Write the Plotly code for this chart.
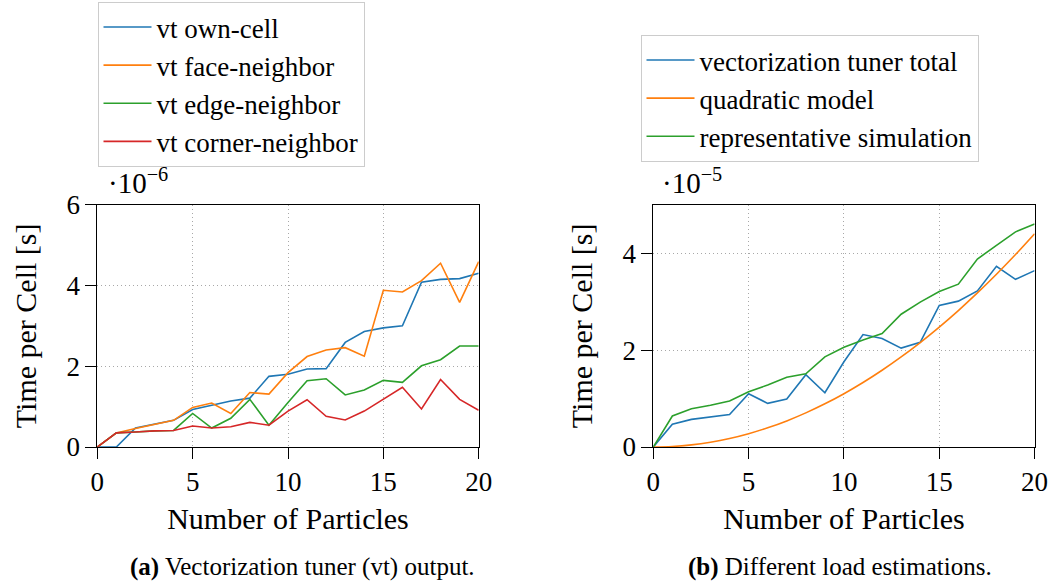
import plotly.graph_objects as go

# ---- data -------------------------------------------------------------
particles = list(range(21))

# (a) vectorization tuner output, time per cell in units of 1e-6 s
vt_own_cell = [0, 0, 0.47, 0.56, 0.66, 0.93, 1.03, 1.14, 1.21, 1.75, 1.80,
               1.93, 1.94, 2.59, 2.86, 2.95, 3.00, 4.08, 4.15, 4.17, 4.30]
vt_face_neighbor = [0, 0.35, 0.46, 0.56, 0.66, 0.98, 1.09, 0.83, 1.35, 1.31, 1.84,
                    2.24, 2.40, 2.46, 2.25, 3.88, 3.84, 4.12, 4.55, 3.58, 4.59]
vt_edge_neighbor = [0, 0.35, 0.37, 0.40, 0.41, 0.83, 0.47, 0.71, 1.18, 0.54, 1.10,
                    1.64, 1.69, 1.29, 1.41, 1.65, 1.60, 2.01, 2.16, 2.50, 2.50]
vt_corner_neighbor = [0, 0.35, 0.37, 0.40, 0.41, 0.52, 0.47, 0.50, 0.61, 0.54, 0.89,
                      1.17, 0.76, 0.67, 0.89, 1.18, 1.48, 0.94, 1.67, 1.18, 0.91]

# (b) load estimations, time per cell in units of 1e-5 s
vt_total = [0, 0.47, 0.57, 0.62, 0.67, 1.10, 0.90, 0.99, 1.49, 1.12, 1.76,
            2.32, 2.24, 2.04, 2.16, 2.92, 3.01, 3.22, 3.73, 3.46, 3.64]
quadratic_model = [0, 0.011, 0.044, 0.099, 0.176, 0.275, 0.396, 0.539, 0.704, 0.891, 1.10,
                   1.331, 1.584, 1.859, 2.156, 2.475, 2.816, 3.179, 3.564, 3.971, 4.40]
representative_sim = [0, 0.64, 0.79, 0.86, 0.95, 1.14, 1.28, 1.44, 1.51, 1.86, 2.06,
                      2.21, 2.34, 2.74, 2.99, 3.21, 3.36, 3.88, 4.16, 4.44, 4.60]

x_ticks = [0, 5, 10, 15, 20]
y_ticks_a = [0, 2, 4, 6]
y_ticks_b = [0, 2, 4]

# ---- styling ----------------------------------------------------------
BLUE, ORANGE, GREEN, RED = "#1f77b4", "#ff7f0e", "#2ca02c", "#d62728"
FONT = "Liberation Serif"
W, H = 1054, 586

fig = go.Figure()

series_a = [
    ("vt own-cell", vt_own_cell, BLUE),
    ("vt face-neighbor", vt_face_neighbor, ORANGE),
    ("vt edge-neighbor", vt_edge_neighbor, GREEN),
    ("vt corner-neighbor", vt_corner_neighbor, RED),
]
for name, ys, col in series_a:
    fig.add_trace(go.Scatter(x=particles, y=ys, name=name, mode="lines",
                             line=dict(color=col, width=1.6),
                             xaxis="x", yaxis="y", legend="legend"))

series_b = [
    ("vectorization tuner total", vt_total, BLUE, "linear"),
    ("quadratic model", quadratic_model, ORANGE, "spline"),
    ("representative simulation", representative_sim, GREEN, "linear"),
]
for name, ys, col, shape in series_b:
    fig.add_trace(go.Scatter(x=particles, y=ys, name=name, mode="lines",
                             line=dict(color=col, width=1.6, shape=shape),
                             xaxis="x2", yaxis="y2", legend="legend2"))

y_top, y_bot = 204.7, 447.0
ydom = [(H - y_bot) / H, (H - y_top) / H]

GRID = dict(showgrid=True, gridcolor="#a8a8a8", griddash="1px,3px", gridwidth=1)
FRAME = dict(showline=True, mirror=True, linecolor="black", linewidth=1,
             ticks="outside", ticklen=11, tickcolor="black", zeroline=False,
             automargin=False)
TICKFONT = dict(family=FONT, size=27, color="black")
TITLEFONT = dict(family=FONT, size=30, color="black")


def xaxis(dom, anchor):
    return dict(domain=dom, anchor=anchor, range=[0, 20], tickvals=x_ticks,
                **FRAME, **GRID, tickfont=TICKFONT,
                title=dict(text="Number of Particles", standoff=11, font=TITLEFONT))


def yaxis(rng, vals, anchor):
    return dict(domain=ydom, anchor=anchor, range=rng, tickvals=vals,
                **FRAME, **GRID, tickfont=TICKFONT,
                title=dict(text="Time per Cell [s]", standoff=20, font=TITLEFONT))


def legend_style(entry_w):
    return dict(bgcolor="white", bordercolor="#cccccc", borderwidth=1,
                font=dict(family=FONT, size=27, color="black"),
                xanchor="left", yanchor="top", itemwidth=48, tracegroupgap=0,
                entrywidthmode="pixels", entrywidth=entry_w)


fig.update_layout(
    width=W, height=H,
    margin=dict(l=0, r=0, t=0, b=0, autoexpand=False),
    font=dict(family=FONT, color="black"),
    paper_bgcolor="white", plot_bgcolor="white",
    xaxis=xaxis([97.3 / W, 478.7 / W], "y"),
    yaxis=yaxis([0, 6], y_ticks_a, "x"),
    xaxis2=xaxis([653.3 / W, 1034.6 / W], "y2"),
    yaxis2=yaxis([0, 5], y_ticks_b, "x2"),
    legend=dict(x=97.5 / W, y=1 - 2 / H, **legend_style(245)),
    legend2=dict(x=640.5 / W, y=1 - 35 / H, **legend_style(330)),
    showlegend=True,
)

# axis multipliers
for xpos, txt in [(106 / W, "·10<sup>−6</sup>"), (660 / W, "·10<sup>−5</sup>")]:
    fig.add_annotation(x=xpos, y=(H - 201) / H, xref="paper", yref="paper",
                       xanchor="left", yanchor="bottom", showarrow=False,
                       text=txt, font=dict(family=FONT, size=29, color="black"))

# sub-captions
for xpos, txt in [(302 / W, "<b>(a)</b> Vectorization tuner (vt) output."),
                  (840 / W, "<b>(b)</b> Different load estimations.")]:
    fig.add_annotation(x=xpos, y=(H - 567) / H, xref="paper", yref="paper",
                       xanchor="center", yanchor="middle", showarrow=False,
                       text=txt, font=dict(family=FONT, size=25, color="black"))

fig.write_html("out.html")
